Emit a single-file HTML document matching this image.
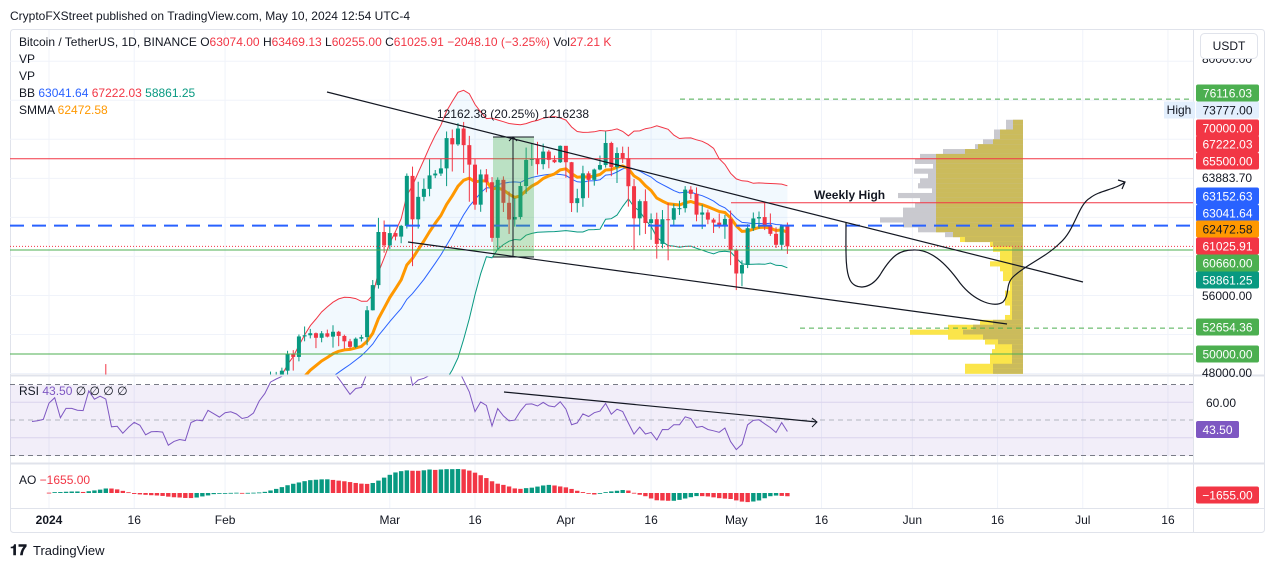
<!DOCTYPE html>
<html><head><meta charset="utf-8">
<style>
html,body{margin:0;padding:0;background:#fff;}
body{width:1273px;height:568px;overflow:hidden;font-family:"Liberation Sans",sans-serif;}
svg text{font-family:"Liberation Sans",sans-serif;}
</style></head>
<body>
<svg id="chart" width="1273" height="568" viewBox="0 0 1273 568" xmlns="http://www.w3.org/2000/svg">
  <defs>
    <clipPath id="mainClip"><rect x="10" y="30" width="1183" height="345"/></clipPath>
    <clipPath id="rsiClip"><rect x="10" y="376" width="1183" height="86"/></clipPath>
    <clipPath id="aoClip"><rect x="10" y="464" width="1183" height="44"/></clipPath>
  </defs>
  <rect x="0" y="0" width="1273" height="568" fill="#ffffff"/>
  <text x="10" y="20" font-size="12" fill="#131722">CryptoFXStreet published on TradingView.com, May 10, 2024 12:54 UTC-4</text>
  <rect x="10.5" y="29.5" width="1254" height="503" rx="3" fill="#fff" stroke="#e0e3eb"/>
  <g id="grid"></g>
  <rect x="10" y="385" width="1183" height="71" fill="#7e57c2" fill-opacity="0.1"/>
  <g id="vp" clip-path="url(#mainClip)"></g>
  <g id="main" clip-path="url(#mainClip)"></g>
  <g id="draw" clip-path="url(#mainClip)"></g>
  <g id="rsi" clip-path="url(#rsiClip)"></g>
  <g id="ao" clip-path="url(#aoClip)"></g>
  <line x1="10" y1="375.5" x2="1264" y2="375.5" stroke="#e0e3eb" stroke-width="2"/>
  <line x1="10" y1="463.5" x2="1264" y2="463.5" stroke="#e0e3eb" stroke-width="2"/>
  <line x1="10" y1="508.5" x2="1264" y2="508.5" stroke="#e0e3eb"/>
  <line x1="1193.5" y1="30" x2="1193.5" y2="532" stroke="#e0e3eb"/>
  <g id="axis"></g>

  <g font-size="12">
    <text x="19" y="46" fill="#131722">Bitcoin / TetherUS, 1D, BINANCE  <tspan fill="#131722">O</tspan><tspan fill="#f23645">63074.00</tspan>  <tspan fill="#131722">H</tspan><tspan fill="#f23645">63469.13</tspan>  <tspan fill="#131722">L</tspan><tspan fill="#f23645">60255.00</tspan>  <tspan fill="#131722">C</tspan><tspan fill="#f23645">61025.91</tspan>  <tspan fill="#f23645">−2048.10 (−3.25%)</tspan>  <tspan fill="#131722">Vol</tspan><tspan fill="#f23645">27.21 K</tspan></text>
    <text x="19" y="63" fill="#131722">VP</text>
    <text x="19" y="80" fill="#131722">VP</text>
    <text x="19" y="97" fill="#131722">BB  <tspan fill="#2962ff">63041.64</tspan>  <tspan fill="#f23645">67222.03</tspan>  <tspan fill="#089981">58861.25</tspan></text>
    <text x="19" y="114" fill="#131722">SMMA  <tspan fill="#ff9800">62472.58</tspan></text>
    <text x="19" y="395" fill="#131722">RSI  <tspan fill="#7e57c2">43.50</tspan>  ∅  ∅  ∅  ∅</text>
    <text x="19" y="484" fill="#131722">AO  <tspan fill="#f23645">−1655.00</tspan></text>
  </g>
  <g id="usdt">
    <rect x="1200.5" y="33.5" width="57" height="25" rx="4" fill="#fff" stroke="#e0e3eb"/>
    <text x="1229" y="50" font-size="12" text-anchor="middle" fill="#131722">USDT</text>
  </g>
  <g>
    <text x="10" y="555" font-size="15" font-weight="bold" fill="#131722">𝟏𝟕</text>
    <text x="33" y="555" font-size="13" fill="#131722">TradingView</text>
  </g>
</svg>
<script>
// ---------- DATA ----------
const warmupCloses = [37880,36160,36600,36570,37360,37470,35800,37430,37300,37720,37800,37460,37250,37830,37860,37720,
38690,39470,39980,41990,44080,43770,43290,44170,43720,43790,41240,41450,42890,43020,41940,42240,42660,41360,42270,43650,43860,43990,43730,43010,43600,42520,43440,42580,42070,42140,42280];
const closes = [
44180,44950,42850,44150,44160,43970,43930,46970,46110,46630,46340,42780,42850,41730,42500,43150,42740,41260,41620,41660,41570,39500,39890,40080,39930,41820,42120,42030,43300,42940,42580,
43080,43190,42990,42580,42700,43090,44340,45290,47150,47770,48290,49960,49700,51800,51920,52130,51660,52120,51780,52280,51850,51300,50730,51570,51730,54480,57060,62500,61130,
62390,62030,63130,68250,63800,66100,66920,68300,68490,69020,72120,71480,73100,71400,69400,65300,68400,67600,61900,67850,65490,63780,64040,67210,69880,69990,69450,70740,69890,69650,71330,
69650,65460,65960,68510,67840,68900,69360,71620,69140,70590,70060,67190,63900,65660,63420,63810,61280,63810,63760,64940,64940,66840,66410,64280,64500,63770,63460,63120,63840,60640,
58250,59120,62890,63890,64030,63160,62310,61190,63070,61025.91];
const highs = [
44180,45900,45500,44750,44350,44250,44500,47250,47900,47700,48970,46500,43250,43050,43400,43570,43200,42900,42200,41850,41880,41700,40500,40540,40270,42230,42200,42800,43350,43880,43750,
43300,43500,43380,43120,43500,43400,44500,45600,48200,48170,48600,50330,50400,52000,52820,52570,52200,52350,52500,52950,52370,51980,51550,51700,51960,54910,57580,63950,63680,
63230,62430,63230,68500,69200,67650,67980,69950,68850,70000,72800,73000,73650,73777,72350,70000,68900,68950,68130,68100,68200,66650,65980,67620,71150,71560,71740,71550,70920,70330,71370,
71300,69680,66930,69290,68720,69000,70330,72800,71750,71170,71250,71230,67930,65840,66870,64400,64480,64750,65480,65390,65700,67200,67200,67070,65300,64800,63920,64400,64250,64700,
60800,59600,63300,64500,64600,65500,64400,62980,63250,63469];
const lows = [
42200,44150,40750,42620,42600,43450,43650,43200,44300,44300,45600,41500,42450,41700,41700,42050,42200,40600,40280,41450,41500,39450,38550,39480,39500,39800,41390,41650,41800,42700,42280,
41900,42600,42850,42250,42250,42600,42800,44350,45250,46800,47560,47700,48300,49250,51300,51600,50600,51200,51700,50650,50800,50550,50550,50600,51280,50900,54460,56700,60380,
60760,61640,61350,62850,59000,62850,65650,66160,68020,68240,67200,68700,71330,68550,65600,64780,64570,66570,61500,60760,64550,62300,63050,63790,66400,69280,68380,68920,69030,69560,69570,
68060,64550,64500,65080,66000,67250,68820,69100,68220,67520,69570,65100,60660,62160,62300,61700,59770,60830,59600,63100,64250,64500,65900,63600,62800,63300,62400,62880,61800,59100,
56550,56940,58800,62600,62850,62700,62100,60860,60630,60255];
const firstOpen = 42280;
const lastOpen = 63074;
const timeTickLabels = ["2024","16","Feb","Mar","16","Apr","16","May","16","Jun","16","Jul","16"];
const timeTickDays = [0,15,31,60,75,91,106,121,136,152,167,182,197];
const priceTicks = [80000,76000,72000,68000,64000,60000,56000,52000,48000];
const vpPrices = [73500,73000,72500,72000,71500,71000,70500,70000,69500,69000,68500,68000,67500,67000,66500,66000,65500,65000,64500,64000,63500,63000,62500,62000,61500,61000,60500,60000,59500,59000,58500,58000,57500,57000,56500,56000,55500,55000,54500,54000,53500,53000,52500,52000,51500,51000,50500,50000,49500,49000,48500,48000];
const vpTotal = [17,17,29,29,40,48,80,103,108,90,109,95,103,105,91,125,103,108,120,120,143,120,105,78,63,33,30,23,23,33,23,20,20,13,13,18,18,18,13,13,18,43,75,113,75,38,28,31,33,33,58,58];
const vpValueArea = [10,10,23,23,30,45,58,87,87,87,87,87,87,87,87,87,87,87,87,87,87,87,87,70,58,30,11,11,11,11,11,11,11,11,11,11,11,11,11,11,11,30,50,60,40,25,11,11,11,11,30,30];

// ---------- SCALES ----------
const NS='http://www.w3.org/2000/svg';
const X0=49, DX=5.68;
function xOf(i){return X0+i*DX;}
function yP(p){return 354-(p-50000)*0.00976;}
function yR(r){return 420-(r-50)*1.775;}
let aoK=0.0025;
function yA(v){return 493-v*aoK;}
function mk(tag,attrs,parent){const e=document.createElementNS(NS,tag);for(const k in attrs)e.setAttribute(k,attrs[k]);parent.appendChild(e);return e;}

const W=warmupCloses.length;
const allC=warmupCloses.concat(closes);
const opens=closes.map((c,i)=>i===0?firstOpen:(i===closes.length-1?lastOpen:closes[i-1]));
const med=allC.map((c,k)=>k<W?c:(highs[k-W]+lows[k-W])/2);

// grid
const grid=document.getElementById('grid');
timeTickDays.forEach((d,i)=>{
  const l=mk('line',{x1:xOf(d),x2:xOf(d),y1:30,y2:508,stroke:'#f0f3fa'},grid);
  
  
});
priceTicks.forEach(p=>{
  const l=mk('line',{x1:10,x2:1193,y1:yP(p),y2:yP(p),stroke:'#f0f3fa'},grid);
  
  
});
[60,40].forEach(r=>{
  const l=mk('line',{x1:10,x2:1193,y1:yR(r),y2:yR(r),stroke:'#e6e1f2'},grid);
  
  
});

// volume profile
const vp=document.getElementById('vp');
const VPR=1023;
vpPrices.forEach((p,i)=>{
  const y1=yP(p+500), h=yP(p)-y1;
  const outer=mk('rect',{x:VPR-vpTotal[i],y:y1,width:vpTotal[i],height:h+0.3,fill:p>=62000?'#c9c9cf':'#fbe54a'},vp);
  
  
  const inner=mk('rect',{x:VPR-vpValueArea[i],y:y1,width:vpValueArea[i],height:h+0.3,fill:'#cbbb5c'},vp);
  
  
});

// indicators
const N=allC.length;
const bbU=[],bbL=[],bbM=[];
for(let k=0;k<N;k++){
  const s=Math.max(0,k-19),w=allC.slice(s,k+1);
  const m=w.reduce((a,b)=>a+b,0)/w.length;
  const sd=Math.sqrt(w.reduce((a,b)=>a+(b-m)*(b-m),0)/w.length);
  bbM.push(m);bbU.push(m+2*sd);bbL.push(m-2*sd);
}
const smma=[];const SL=7;
for(let k=0;k<N;k++){
  if(k<SL)smma.push(allC.slice(0,k+1).reduce((a,b)=>a+b,0)/(k+1));
  else smma.push((smma[k-1]*(SL-1)+allC[k])/SL);
}
const rsi=[];let ag=0,al=0;
for(let k=1;k<N;k++){
  const ch=allC[k]-allC[k-1],g=Math.max(ch,0),l=Math.max(-ch,0);
  if(k<=14){ag+=g/14;al+=l/14;}else{ag=(ag*13+g)/14;al=(al*13+l)/14;}
  rsi[k]=al===0?100:100-100/(1+ag/al);
}
const ao=[];
for(let k=0;k<N;k++){
  const s5=med.slice(Math.max(0,k-4),k+1),s34=med.slice(Math.max(0,k-33),k+1);
  ao.push(s5.reduce((a,b)=>a+b,0)/s5.length-s34.reduce((a,b)=>a+b,0)/s34.length);
}
aoK=24/Math.max(...ao.slice(W));

const main=document.getElementById('main');
function pathOf(arr,fy,from){let d='';for(let k=from;k<N;k++){d+=(d?'L':'M')+xOf(k-W).toFixed(1)+','+fy(arr[k]).toFixed(1);}return d;}
const from=W-3;
let fillD=pathOf(bbU,yP,from);
for(let k=N-1;k>=from;k--)fillD+='L'+xOf(k-W).toFixed(1)+','+yP(bbL[k]).toFixed(1);
const bf=mk('path',{d:fillD+'Z',fill:'#2196f3','fill-opacity':0.06},main);


const bu=mk('path',{d:pathOf(bbU,yP,from),fill:'none',stroke:'#f23645','stroke-width':1},main);


const bm=mk('path',{d:pathOf(bbM,yP,from),fill:'none',stroke:'#2962ff','stroke-width':1},main);


const bl=mk('path',{d:pathOf(bbL,yP,from),fill:'none',stroke:'#089981','stroke-width':1},main);


const sm=mk('path',{d:pathOf(smma,yP,from),fill:'none',stroke:'#ff9800','stroke-width':3,'stroke-linejoin':'round'},main);



// candles
closes.forEach((c,i)=>{
  const o=opens[i],up=c>=o,col=up?'#089981':'#f23645',x=xOf(i);
  const g=mk('g',{},main);
  
  
  mk('line',{x1:x,x2:x,y1:yP(highs[i]),y2:yP(lows[i]),stroke:col,'stroke-width':1},g);
  const t=yP(Math.max(o,c)),b=yP(Math.min(o,c));
  mk('rect',{x:x-2,y:t,width:4,height:Math.max(1,b-t),fill:col},g);
});

// drawings
const dr=document.getElementById('draw');
function line(n,a,parent){const l=mk('line',a,parent||dr);return l;}
line('level-70000',{x1:10,x2:1193,y1:yP(70000),y2:yP(70000),stroke:'#f23645'});
line('weekly-high-line',{x1:731,x2:1193,y1:yP(65500),y2:yP(65500),stroke:'#f23645'});
line('level-63152-dashed',{x1:10,x2:1193,y1:yP(63152.63),y2:yP(63152.63),stroke:'#2962ff','stroke-width':2,'stroke-dasharray':'14 8'});
line('current-price-line',{x1:10,x2:1193,y1:yP(61025.91),y2:yP(61025.91),stroke:'#f23645','stroke-dasharray':'1 2'});
line('level-60660',{x1:10,x2:1193,y1:yP(60660),y2:yP(60660),stroke:'#4caf50'});
line('level-50000',{x1:10,x2:1193,y1:yP(50000),y2:yP(50000),stroke:'#4caf50'});
line('level-52654-dashed',{x1:800,x2:1193,y1:yP(52654.36),y2:yP(52654.36),stroke:'#4caf50','stroke-dasharray':'5 4'});
line('level-76116-dashed',{x1:680,x2:1193,y1:yP(76116.03),y2:yP(76116.03),stroke:'#4caf50','stroke-dasharray':'5 4'});
const mr=mk('rect',{x:493,y:137,width:41,height:120,fill:'#4caf50','fill-opacity':0.33},dr);


line('measure-top',{x1:493,x2:534,y1:137,y2:137,stroke:'#131722'});
line('measure-bottom',{x1:493,x2:534,y1:257,y2:257,stroke:'#131722'});
line('measure-arrow',{x1:513,x2:513,y1:257,y2:137,stroke:'#131722'});
const ah=mk('path',{d:'M509,141L513,137L517,141',fill:'none',stroke:'#131722'},dr);


const mt=mk('text',{x:513,y:118,'font-size':12,'text-anchor':'middle',fill:'#131722'},dr);
mt.textContent='12162.38 (20.25%) 1216238';


line('upper-trendline',{x1:327,y1:92,x2:1083,y2:282,stroke:'#131722','stroke-width':1.2});
line('lower-trendline',{x1:408,y1:242,x2:1007,y2:324,stroke:'#131722','stroke-width':1.2});
const wh=mk('text',{x:814,y:199,'font-size':12,'font-weight':'bold',fill:'#131722'},dr);
wh.textContent='Weekly High';


const cv=mk('path',{d:'M846,223 C846,250 845,270 850,280 C855,290 870,290 880,275 C892,255 900,250 913,250 C930,249 945,262 960,283 C975,302 995,308 1003,302 C1010,295 1005,285 1013,277 C1025,265 1045,258 1060,243 C1075,230 1078,205 1090,198 C1100,190 1115,190 1125,182',fill:'none',stroke:'#131722','stroke-width':1.2},dr);


const ca=mk('path',{d:'M1118,180L1125,182L1122,189',fill:'none',stroke:'#131722','stroke-width':1.2},dr);



// RSI
const rsiG=document.getElementById('rsi');
[70,30].forEach(r=>{
  const l=mk('line',{x1:10,x2:1193,y1:yR(r),y2:yR(r),stroke:'#787b86','stroke-dasharray':'5 4'},rsiG);
  
  
});
const l50=mk('line',{x1:10,x2:1193,y1:yR(50),y2:yR(50),stroke:'#b2b5be','stroke-dasharray':'5 4'},rsiG);


let rd='';for(let k=W-3;k<N;k++){rd+=(rd?'L':'M')+xOf(k-W).toFixed(1)+','+yR(rsi[k]).toFixed(1);}
const rl=mk('path',{d:rd,fill:'none',stroke:'#7e57c2','stroke-width':1},rsiG);


line('rsi-trendline',{x1:504,y1:392,x2:817,y2:422,stroke:'#131722','stroke-width':1.2},rsiG);
const ra=mk('path',{d:'M812,418L817,422L812,427',fill:'none',stroke:'#131722'},rsiG);



// AO
const aoG=document.getElementById('ao');
for(let k=W;k<N;k++){
  const v=ao[k],col=v>=ao[k-1]?'#089981':'#f23645',x=xOf(k-W);
  const t=Math.min(yA(v),yA(0)),h=Math.abs(yA(v)-yA(0));
  const r=mk('rect',{x:x-2.2,y:t,width:4.4,height:Math.max(0.8,h),fill:col},aoG);
  
  
}

// axes
const ax=document.getElementById('axis');
timeTickLabels.forEach((t,i)=>{
  const e=mk('text',{x:xOf(timeTickDays[i]),y:524,'font-size':12,'text-anchor':'middle',fill:'#131722','font-weight':i===0?'bold':'normal'},ax);
  e.textContent=t;
  
  
});
const plain=[[80000,'80000.00',59],[63883.7,'63883.70',178],[56000,'56000.00',296],[48000,'48000.00',373]];
plain.forEach(p=>{
  const e=mk('text',{x:1202,y:p[2]+4,'font-size':12,fill:'#131722'},ax);
  e.textContent=p[1];
  
  
});
const boxes=[
 ['76116.03',93,'#4caf50','#fff'],['73777.00',110,'#e3effd','#131722'],['70000.00',128,'#f23645','#fff'],
 ['67222.03',144,'#f23645','#fff'],['65500.00',161,'#f23645','#fff'],['63152.63',196,'#2962ff','#fff'],
 ['63041.64',213,'#2962ff','#fff'],['62472.58',229,'#ff9800','#131722'],['61025.91',246,'#f23645','#fff'],
 ['60660.00',263,'#4caf50','#fff'],['58861.25',280,'#089981','#fff'],['52654.36',327,'#4caf50','#fff'],
 ['50000.00',354,'#4caf50','#fff'],['−1655.00',495,'#f23645','#fff']];
boxes.forEach(b=>{
  const g=mk('g',{},ax);
  
  
  mk('rect',{x:1196,y:b[1]-8.5,width:63,height:17,rx:2,fill:b[2]},g);
  const t=mk('text',{x:1227.5,y:b[1]+4.5,'font-size':12,'text-anchor':'middle',fill:b[3]},g);
  t.textContent=b[0];
});
const hg=mk('g',{},ax);


mk('rect',{x:1164,y:101.5,width:31,height:17,fill:'#e3effd'},hg);
const ht=mk('text',{x:1179,y:114,'font-size':12,'text-anchor':'middle',fill:'#131722'},hg);
ht.textContent='High';
const r60=mk('text',{x:1206,y:407,'font-size':12,fill:'#131722'},ax);
r60.textContent='60.00';


const rg=mk('g',{},ax);


mk('rect',{x:1196,y:421,width:43,height:17,rx:2,fill:'#7e57c2'},rg);
const rt=mk('text',{x:1217.5,y:434,'font-size':12,'text-anchor':'middle',fill:'#fff'},rg);
rt.textContent='43.50';
document.getElementById('chart').appendChild(document.getElementById('usdt'));
</script>
</body></html>
